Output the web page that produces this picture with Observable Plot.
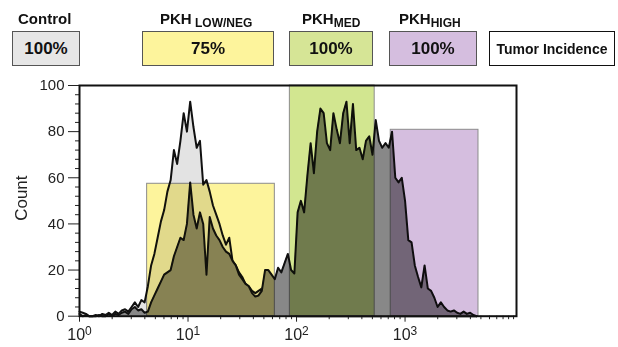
<!DOCTYPE html>
<html><head><meta charset="utf-8">
<script src="https://cdn.jsdelivr.net/npm/d3@7"></script>
<script src="https://cdn.jsdelivr.net/npm/@observablehq/plot@0.6"></script>
<style>
body{margin:0;background:#fff;font-family:"Liberation Sans",Arial,Helvetica,sans-serif;}
#wrap{position:relative;width:618px;height:347px;overflow:hidden;background:#fff}
#chart{position:absolute;left:0;top:0}
.lab{position:absolute;top:11px;font-weight:bold;font-size:15px;line-height:15px;color:#111;white-space:pre}
.lab .sub{font-size:12px;position:relative;top:3px}
.box{position:absolute;top:31px;height:35px;box-sizing:border-box;border:1.5px solid #555;display:flex;align-items:center;justify-content:center;font-weight:bold;font-size:17px;color:#111;white-space:nowrap}
</style></head>
<body><div id="wrap"><div id="chart"></div></div>
<script>
// ---------- data ----------
// histogram channels (log10 of fluorescence intensity)
const channelExp = [0.00,0.03,0.06,0.09,0.12,0.15,0.18,0.21,0.24,0.27,0.30,0.33,0.36,0.39,0.42,0.45,0.48,0.51,0.54,0.57,
0.60,0.63,0.66,0.69,0.72,0.75,0.78,0.81,0.84,0.87,0.90,0.93,0.96,0.99,1.02,1.05,1.08,1.11,1.14,1.17,
1.20,1.23,1.26,1.29,1.32,1.35,1.38,1.41,1.44,1.47,1.50,1.53,1.56,1.59,1.62,1.65,1.68,1.71,1.74,1.77,
1.80,1.83,1.86,1.89,1.92,1.95,1.98,2.01,2.04,2.07,2.10,2.13,2.16,2.19,2.22,2.25,2.28,2.31,2.34,2.37,
2.40,2.43,2.46,2.49,2.52,2.55,2.58,2.61,2.64,2.67,2.70,2.73,2.76,2.79,2.82,2.85,2.88,2.91,2.94,2.97,
3.00,3.03,3.06,3.09,3.12,3.15,3.18,3.21,3.24,3.27,3.30,3.33,3.36,3.39,3.42,3.45,3.48,3.51,3.54,3.57,
3.60,3.63,3.66];
const controlCounts = [2,1.5,1,0,0,0.5,0,1,0.5,1.5,0.5,2,1,2.5,3,2,4,6,4,7,
6,13,22,27,34,41,46,54,59,72,66,76,88,80,93,82,73,76,57,59,
54,48,44,40,35,31,34,24,22,19,17,14,13,11,10,11,12,9,7,6,
5,4,3,2,2,1,1,0,0,0,0,0,0,0,0,0,0,0,0,0,
0,0,0,0,0,0,0,0,0,0,0,0,0,0,0,0,0,0,0,0,
0,0,0,0,0,0,0,0,0,0,0,0,0,0,0,0,0,0,0,0,
0,0,0];
const stainedCounts = [1,0,0.5,0,0,0,0.5,0,0,1,0,1,0.5,1.5,2,1,3,4,2.5,3,
1.5,2,6,9,12,15,18,19,20,26,30,34,33,40,58,44,38,45,40,18,
43,38,35,33,30,28,27,24,22,18,16,14,13,10,8.5,9,11,20,20,18,
16,21,19,23,27,20,18.5,45,50,45,61,75,62,80,90,88,75,72,88,81,
75,88,93,75,92,72,73,68,76,78,70,85,76,73,75,73,80,60,58,60,
50,33,32,22,17,12.5,22,12,11,8,4,6,4,2.5,2,2.5,1.5,1,2,1,
1.5,0.5,0];
// gates
const gateNames = ["PKH LOW/NEG", "PKH MED", "PKH HIGH"];
const gateLow = [4.2, 86.8, 738];
const gateHigh = [63.1, 525, 4750];
const gateTop = [57.4, 100, 80.8];
// legend
const legendMain = ["Control", "PKH", "PKH", "PKH"];
const legendSub = ["", " LOW/NEG", "MED", "HIGH"];
const incidence = ["100%", "75%", "100%", "100%"];
const incidenceTitle = "Tumor Incidence";
// axis ticks
const yTicks = [0, 20, 40, 60, 80, 100];
const xMajor = [1, 10, 100, 1000];

// ---------- styles / layout ----------
const gateColors = ["#fdf49c", "#d2e690", "#d5bedf"];
const boxColors = ["#e6e6e6", "#fdf49c", "#d6e596", "#d5bedf", "#ffffff"];
const boxX = [[12, 80], [142, 274], [289, 373], [389, 477], [489, 615]];
const labX = [18, 160, 302, 399];

// ---------- build ----------
const hist = channelExp.map((e, i) => ({fl: Math.pow(10, e), control: controlCounts[i], stained: stainedCounts[i]}));
const gates = gateNames.map((n, i) => ({name: n, low: gateLow[i], high: gateHigh[i], top: gateTop[i], color: gateColors[i]}));
const yMinor = d3.range(0, 101, 4).filter(v => v % 20 !== 0);
const xMinor = [];
for (const p of [1, 10, 100, 1000]) for (let k = 2; k <= 9; k++) xMinor.push(k * p);
xMinor.push(10000);

const font = '"Liberation Sans", Arial, Helvetica, sans-serif';
const chart = Plot.plot({
  width: 618, height: 347,
  marginLeft: 79, marginRight: 102, marginTop: 85, marginBottom: 31.3,
  style: {background: "#fff", fontFamily: font, color: "#222"},
  x: {type: "log", domain: [1, Math.pow(10, 4.027)]},
  y: {domain: [0, 100]},
  marks: [
    Plot.areaY(hist, {x: "fl", y: "control", fill: "#e3e3e3"}),
    Plot.lineY(hist, {x: "fl", y: "control", stroke: "#111", strokeWidth: 2}),
    Plot.areaY(hist, {x: "fl", y: "stained", fill: "#888"}),
    Plot.lineY(hist, {x: "fl", y: "stained", stroke: "#111", strokeWidth: 2}),
    Plot.rect(gates, {x1: "low", x2: "high", y1: 0, y2: "top", fill: "color", stroke: "#8c8c8c", strokeWidth: 1, mixBlendMode: "multiply"}),
    Plot.axisY({ticks: yTicks, tickSize: 11, tickPadding: 4, fontSize: 15, label: null}),
    Plot.axisY({ticks: yMinor, tickSize: 4, tickFormat: () => "", label: null}),
    Plot.axisX({ticks: xMajor, tickSize: 6, tickPadding: 6, fontSize: 16, label: null,
      tickFormat: d => "10^" + Math.round(Math.log10(d))}),
    Plot.axisX({ticks: xMinor, tickSize: 3.5, tickFormat: () => "", label: null}),
    Plot.frame({stroke: "#111", strokeWidth: 2}),
    Plot.text(["Count"], {frameAnchor: "left", rotate: -90, dx: -58, dy: 20, fontSize: 17, fill: "#222"})
  ]
});
// render the exponent as a real superscript
chart.querySelectorAll('[aria-label="x-axis tick label"] text').forEach(t => {
  const s = t.textContent;
  if (!s.includes("^")) return;
  const [base, exp] = s.split("^");
  t.textContent = "";
  const ns = "http://www.w3.org/2000/svg";
  const b = document.createElementNS(ns, "tspan"); b.textContent = base;
  const e = document.createElementNS(ns, "tspan"); e.textContent = exp;
  e.setAttribute("dy", "-0.42em"); e.setAttribute("font-size", "12");
  t.appendChild(b); t.appendChild(e);
});
document.getElementById("chart").appendChild(chart);

const wrap = document.getElementById("wrap");
legendMain.forEach((m, i) => {
  const d = document.createElement("div");
  d.className = "lab";
  d.style.left = labX[i] + "px";
  d.textContent = m;
  if (legendSub[i]) {
    const s = document.createElement("span");
    s.className = "sub";
    s.textContent = legendSub[i];
    d.appendChild(s);
  }
  wrap.appendChild(d);
});
boxX.forEach((b, i) => {
  const d = document.createElement("div");
  d.className = "box";
  d.style.left = b[0] + "px";
  d.style.width = (b[1] - b[0]) + "px";
  d.style.background = boxColors[i];
  if (i === 4) { d.style.border = "1.5px solid #111"; d.style.fontSize = "14px"; d.textContent = incidenceTitle; }
  else d.textContent = incidence[i];
  wrap.appendChild(d);
});
</script>
</body></html>
